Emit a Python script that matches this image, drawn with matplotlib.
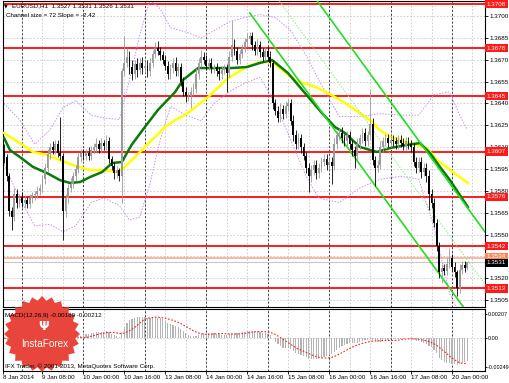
import numpy as np
import pandas as pd
import matplotlib.pyplot as plt
import matplotlib.transforms as mtransforms
from matplotlib.patches import Polygon

plt.rcParams['font.family'] = ['Liberation Sans', 'DejaVu Sans']

# EURUSD H1, bar 0 = 8 Jan 17:00, bar 181 = 20 Jan 06:00
first_open = 1.3606
closes = [
    1.3603, 1.3590, 1.3566, 1.3562, 1.3578, 1.3572, 1.3576, 1.3572,
    1.3574, 1.3571, 1.3575, 1.3577, 1.3578, 1.3580, 1.3582, 1.3588,
    1.3596, 1.3605, 1.3610, 1.3608, 1.3612, 1.3606, 1.3604, 1.3566,
    1.3575, 1.3582, 1.3585, 1.3590, 1.3595, 1.3603, 1.3606, 1.3604,
    1.3606, 1.3604, 1.3608, 1.3610, 1.3612, 1.3609, 1.3613, 1.3611,
    1.3614, 1.3602, 1.3597, 1.3592, 1.3594, 1.3590, 1.3662, 1.3668,
    1.3672, 1.3665, 1.3660, 1.3667, 1.3663, 1.3668, 1.3664, 1.3666,
    1.3662, 1.3668, 1.3674, 1.3678, 1.3676, 1.3673, 1.3670, 1.3666,
    1.3660, 1.3664, 1.3668, 1.3662, 1.3665, 1.3655, 1.3648, 1.3645,
    1.3645, 1.3648, 1.3650, 1.3660, 1.3668, 1.3672, 1.3670, 1.3666,
    1.3668, 1.3664, 1.3665, 1.3662, 1.3660, 1.3663, 1.3664, 1.3661,
    1.3672, 1.3680, 1.3676, 1.3670, 1.3674, 1.3678, 1.3682, 1.3684,
    1.3686, 1.3680, 1.3676, 1.3680, 1.3675, 1.3672, 1.3676, 1.3672,
    1.3668, 1.3640, 1.3635, 1.3630, 1.3636, 1.3633, 1.3638, 1.3640,
    1.3628, 1.3618, 1.3612, 1.3616, 1.3610, 1.3604, 1.3596, 1.3590,
    1.3594, 1.3598, 1.3592, 1.3596, 1.3600, 1.3602, 1.3598, 1.3600,
    1.3597, 1.3612, 1.3618, 1.3620, 1.3616, 1.3614, 1.3618, 1.3612,
    1.3608, 1.3604, 1.3612, 1.3616, 1.3620, 1.3614, 1.3618, 1.3626,
    1.3601, 1.3596, 1.3598, 1.3610, 1.3614, 1.3616, 1.3613, 1.3615,
    1.3614, 1.3612, 1.3615, 1.3613, 1.3611, 1.3614, 1.3612, 1.3610,
    1.3600, 1.3596, 1.3600, 1.3593, 1.3596, 1.3590, 1.3578, 1.3572,
    1.3558, 1.3542, 1.3524, 1.3527, 1.3525, 1.3530, 1.3534, 1.3528,
    1.3524, 1.3513, 1.3526, 1.3529, 1.3527, 1.3531,
]
# wick lengths above / below the body, in pips
hi_wick = [
    6, 2, 2, 3, 4, 3, 2, 3,   3, 2, 3, 2, 2, 3, 3, 3,
    3, 4, 3, 4, 3, 3, 25, 2,  3, 3, 4, 3, 3, 3, 3, 3,
    3, 4, 3, 3, 4, 3, 3, 2,   4, 3, 2, 3, 3, 2, 2, 18,
    6, 4, 5, 3, 4, 3, 4, 3,   4, 3, 3, 4, 5, 3, 3, 3,
    3, 3, 3, 4, 3, 3, 3, 3,   3, 3, 4, 4, 3, 5, 3, 3,
    3, 3, 2, 3, 3, 3, 3, 3,   4, 17, 4, 3, 3, 3, 3, 4,
    3, 3, 3, 4, 3, 3, 3, 3,   4, 2, 3, 3, 4, 3, 4, 4,
    3, 4, 4, 4, 3, 3, 3, 3,   4, 3, 3, 3, 3, 3, 3, 3,
    3, 4, 3, 3, 4, 3, 3, 3,   3, 3, 4, 3, 3, 3, 3, 23,
    4, 3, 3, 4, 3, 3, 3, 3,   3, 3, 3, 3, 3, 3, 3, 3,
    3, 3, 3, 3, 3, 3, 4, 3,   3, 3, 3, 3, 3, 4, 7, 3,
    3, 2, 4, 3, 3, 0,
]
lo_wick = [
    4, 3, 3, 9, 3, 4, 3, 3,   4, 3, 3, 3, 3, 3, 3, 3,
    3, 3, 3, 3, 3, 3, 3, 20,  4, 3, 3, 3, 3, 3, 3, 3,
    3, 3, 3, 3, 3, 3, 3, 3,   3, 3, 3, 4, 3, 3, 18, 3,
    3, 5, 4, 3, 5, 3, 4, 3,   4, 3, 3, 3, 3, 3, 3, 3,
    3, 3, 3, 3, 3, 3, 3, 4,   3, 8, 3, 3, 3, 3, 3, 3,
    3, 3, 3, 3, 4, 3, 3, 13,  3, 3, 3, 3, 3, 3, 3, 3,
    3, 3, 3, 3, 3, 3, 3, 3,   3, 4, 3, 3, 3, 4, 3, 3,
    3, 4, 3, 3, 4, 3, 4, 11,  4, 3, 4, 3, 3, 3, 4, 3,
    12, 3, 3, 3, 3, 3, 3, 3,  4, 8, 3, 3, 3, 3, 3, 3,
    3, 13, 3, 3, 3, 3, 3, 3,  3, 3, 3, 3, 3, 3, 3, 3,
    3, 4, 3, 4, 3, 4, 11, 4,  3, 3, 4, 7, 3, 3, 3, 3,
    3, 5, 3, 3, 3, 1,
]

# moving averages (bar index, price)
yellow_idx = [0, 2.3, 6.2, 11.3, 16.8, 21.8, 26.9, 33.6, 38.3, 44.5, 47.2, 51.1, 55, 59,
              62.9, 66.8, 70.7, 79.3, 87.5, 94.9, 100, 104.7, 113.6, 121.5, 126.5, 133.2,
              139, 142.9, 146.8, 150.8, 157.4, 165.2, 169.1, 175.4, 181.2]
yellow_ma = [1.36197, 1.36170, 1.36128, 1.36067, 1.36046, 1.36012, 1.35977, 1.35943, 1.35943,
             1.35929, 1.35964, 1.36032, 1.36101, 1.36170, 1.36238, 1.36286, 1.36321, 1.36437,
             1.36574, 1.36650, 1.36684, 1.36684, 1.36561, 1.36513, 1.36472, 1.36403, 1.36334,
             1.36286, 1.36218, 1.36170, 1.36135, 1.36094, 1.36012, 1.35929, 1.35854]
green_idx = [0, 2.3, 6.2, 11.3, 16.8, 21.8, 25.8, 29.7, 33.6, 38.3, 42.2, 46, 49.8, 55,
             60.1, 66.8, 69.9, 75.8, 81.6, 89, 94.9, 100, 104.7, 110.9, 117.5, 124.2, 129.3,
             133.2, 139, 145.7, 150.8, 157.4, 162.5, 166.4, 170.3, 174.2, 178.1, 181.2]
green_ma = [1.36163, 1.36080, 1.36032, 1.35964, 1.35922, 1.35874, 1.35854, 1.35861, 1.35895,
            1.35929, 1.35991, 1.35998, 1.36115, 1.36238, 1.36355, 1.36478, 1.36561, 1.36643,
            1.36643, 1.36643, 1.36650, 1.36678, 1.36698, 1.36609, 1.36472, 1.36334, 1.36238,
            1.36197, 1.36101, 1.36067, 1.36094, 1.36115, 1.36128, 1.36060, 1.35964, 1.35874,
            1.35771, 1.35689]

# bollinger bands (violet dotted)
band_idx = [0, 6, 12, 18, 23, 28, 34, 39, 45, 49, 53, 57, 61, 65, 71, 77, 82, 88, 94, 100,
            106, 112, 118, 123, 131, 139, 147, 155, 162, 168, 174, 178, 181]
band_up = [1.3640, 1.3629, 1.3612, 1.3622, 1.3637, 1.3642, 1.3632, 1.3630, 1.3629, 1.3656,
           1.3687, 1.3711, 1.3705, 1.3692, 1.3689, 1.3685, 1.3690, 1.3696, 1.3699, 1.3701,
           1.3699, 1.3690, 1.3673, 1.3656, 1.3631, 1.3631, 1.3633, 1.3632, 1.3632, 1.3646,
           1.3648, 1.3632, 1.3622]
band_lo = [1.3598, 1.3575, 1.3556, 1.3557, 1.3552, 1.3556, 1.3572, 1.3575, 1.3570, 1.3560,
           1.3562, 1.3585, 1.3615, 1.3638, 1.3632, 1.3628, 1.3640, 1.3648, 1.3654, 1.3658,
           1.3640, 1.3615, 1.3590, 1.3575, 1.3572, 1.3582, 1.3588, 1.3590, 1.3588, 1.3555,
           1.3510, 1.3495, 1.3490]

# regression channel: mid-line anchors and half width
chan_idx = [96, 181]
chan_mid = [1.37381, 1.35325]
chan_half = 0.0036

levels_red = [1.3708, 1.3678, 1.3645, 1.3607, 1.3576, 1.3542, 1.3513]
level_salmon = 1.3534
bid = 1.3531
price_ticks = [1.3505, 1.3520, 1.3535, 1.3550, 1.3565, 1.3580, 1.3595, 1.3610,
               1.3625, 1.3640, 1.3655, 1.3670, 1.3685, 1.3700]
price_labels = ['1.3505', '1.3520', '', '1.3550', '1.3565', '1.3580', '1.3595', '1.3610',
                '1.3625', '1.3640', '1.3655', '1.3670', '1.3685', '1.3700']
time_idx = [-0.4, 15, 31, 47, 63, 79, 95, 111, 127, 143, 159, 175]
time_labels = ['8 Jan 2014', '9 Jan 08:00', '10 Jan 00:00', '10 Jan 16:00', '13 Jan 08:00',
               '14 Jan 00:00', '14 Jan 16:00', '15 Jan 08:00', '16 Jan 00:00', '16 Jan 16:00',
               '17 Jan 08:00', '20 Jan 00:00']
day_starts = [7, 31, 55, 79, 103, 127, 151, 175]

W, H = 510, 383
FS = 4.5
fig = plt.figure(figsize=(W / 100, H / 100), dpi=100)


def px_axes(x0, y0, x1, y1):
    return fig.add_axes([x0 / W, 1 - y1 / H, (x1 - x0) / W, (y1 - y0) / H])


ax = px_axes(3, 1, 485, 307)
axm = px_axes(3, 309, 485, 371)

c = np.array(closes)
o = np.array([first_open] + closes[:-1])
hi = np.maximum(o, c) + np.array(hi_wick) * 1e-4
lo = np.minimum(o, c) - np.array(lo_wick) * 1e-4
x = np.arange(len(c))
up = c >= o
xmin, xmax = -0.42, 187.9

for a in (ax, axm):
    a.set_xlim(xmin, xmax)
    for g in range(7, 188, 8):
        a.axvline(g, color='#c8c8c8', lw=0.6, ls=(0, (2, 2)), zorder=0)
    for d in day_starts:
        a.axvline(d, color='#404040', lw=0.7, ls=(0, (2, 2)), zorder=0.5)
    for s in a.spines.values():
        s.set_linewidth(0.8)

ax.set_ylim(1.35003, 1.37103)
for t in price_ticks:
    ax.axhline(t, color='#c8c8c8', lw=0.6, ls=(0, (2, 2)), zorder=0)

# horizontal levels
for lv in levels_red:
    ax.axhline(lv, color='#ff1a1a', lw=1.4, zorder=1)
ax.axhline(level_salmon, color='#ffb49a', lw=1.4, zorder=1)
ax.axhline(bid, color='#c8c8c8', lw=0.8, zorder=1)

# bands, moving averages, channel
ax.plot(band_idx, band_up, color='#c890e8', lw=0.7, ls=(0, (1.5, 1.5)), zorder=2)
ax.plot(band_idx, band_lo, color='#c890e8', lw=0.7, ls=(0, (1.5, 1.5)), zorder=2)
ax.plot(yellow_idx, yellow_ma, color='#ffff00', lw=1.8, zorder=3)
ax.plot(green_idx, green_ma, color='#0a7a0a', lw=1.8, zorder=3)

slope = (chan_mid[1] - chan_mid[0]) / (chan_idx[1] - chan_idx[0])
cx = np.array([chan_idx[0], xmax])
cmid = chan_mid[0] + slope * (cx - chan_idx[0])
ax.plot(cx, cmid + chan_half, color='#22dd22', lw=1.2, zorder=4)
ax.plot(cx, cmid - chan_half, color='#22dd22', lw=1.2, zorder=4)
ax.plot(cx, cmid, color='#88ee88', lw=0.7, ls=(0, (1.5, 1.5)), zorder=4)

# candles
col = np.where(up, '#9a9a9a', '#000000')
ax.vlines(x, lo, hi, colors=col, lw=0.6, zorder=5)
body = np.maximum(np.abs(c - o), 0.00004)
ax.bar(x, body, bottom=np.minimum(o, c), width=0.7, color=col, lw=0, zorder=5)

ax.set_xticks([])
ax.yaxis.tick_right()
ax.set_yticks(price_ticks)
ax.set_yticklabels(price_labels)
ax.tick_params(axis='y', labelsize=FS, length=2, pad=1.5, width=0.6)

tr = mtransforms.blended_transform_factory(ax.transAxes, ax.transData)
for lv in levels_red:
    ax.text(1.004, lv, f'{lv:.4f}', transform=tr, fontsize=FS, color='white', va='center',
            ha='left', zorder=6, clip_on=False,
            bbox=dict(boxstyle='square,pad=0.25', fc='#ff1a1a', ec='none'))
ax.text(1.004, level_salmon + 0.00007, f'{level_salmon:.4f}', transform=tr, fontsize=FS,
        color='white', va='center', ha='left', zorder=6, clip_on=False,
        bbox=dict(boxstyle='square,pad=0.25', fc='#ff8855', ec='none'))
ax.text(1.004, bid - 0.00004, f'{bid:.4f}', transform=tr, fontsize=FS, color='white',
        va='center', ha='left', zorder=7, clip_on=False,
        bbox=dict(boxstyle='square,pad=0.25', fc='black', ec='none'))

# MACD (12,26,9)
s = pd.Series(c)
macd = s.ewm(span=12, adjust=False).mean() - s.ewm(span=26, adjust=False).mean()
signal = macd.rolling(9, min_periods=1).mean()
axm.set_ylim(-0.00283, 0.00250)
axm.axhline(0, color='#c8c8c8', lw=0.6, ls=(0, (2, 2)), zorder=0)
axm.bar(x, macd, width=0.45, color='#b4b4b4', lw=0, zorder=2)
axm.plot(x, signal, color='#ff2020', lw=0.8, ls=(0, (1.5, 1.5)), zorder=3)
axm.yaxis.tick_right()
axm.set_yticks([-0.00249, 0, 0.00207])
axm.set_yticklabels(['-0.00249', '0.00', '0.00207'])
axm.tick_params(axis='y', labelsize=3.9, length=1.5, pad=0.5, width=0.6)
axm.set_xticks(time_idx)
axm.set_xticklabels(time_labels, ha='left')
axm.tick_params(axis='x', labelsize=FS, length=2, pad=1, width=0.6)

# overlay in pixel coordinates for captions and logo
ov = fig.add_axes([0, 0, 1, 1], zorder=10)
ov.set_xlim(0, W)
ov.set_ylim(H, 0)
ov.axis('off')
ov.patch.set_alpha(0)

ov.text(4, 6, '\u25bc', fontsize=3.5, va='center', ha='left', family=['DejaVu Sans'])
ov.text(12, 6, 'EURUSD,H1  1.3527 1.3531 1.3526 1.3531', fontsize=FS, va='center', ha='left')
ov.text(6, 16, 'Channel size = 72 Slope = -2.42', fontsize=FS, va='center', ha='left')

ang = np.linspace(0, 2 * np.pi, 49)[:-1]
rad = np.where(np.arange(48) % 2 == 0, 38, 33.5)
star = np.column_stack([42 + rad * np.cos(ang), 334 + rad * np.sin(ang)])
ov.add_patch(Polygon(star, closed=True, fc='#e8453c', ec='none', zorder=1))
ov.text(44, 326, '\u03a8', fontsize=9, color='white', ha='center', va='center',
        weight='bold', family=['DejaVu Sans'], zorder=2)
ov.text(45, 344, 'InstaForex', fontsize=7.2, color='white', ha='center', va='center', zorder=2)

ov.text(5, 315, 'MACD(12,26,9) -0.00189 -0.00212', fontsize=FS, va='center', ha='left', zorder=3)
ov.text(5, 366, 'IFX Trader, \u00a9 2001-2013, MetaQuotes Software Corp.', fontsize=FS,
        va='center', ha='left', zorder=3)

fig.savefig('out.png', dpi=100)
